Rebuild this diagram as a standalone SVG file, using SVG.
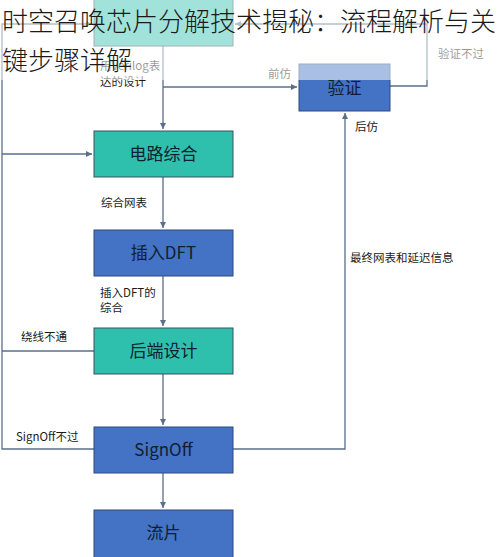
<svg xmlns="http://www.w3.org/2000/svg" width="500" height="557" viewBox="0 0 500 557">
<defs>
<marker id="ah" markerWidth="8" markerHeight="8" refX="6" refY="4" orient="auto" markerUnits="userSpaceOnUse">
<path d="M0,1 L6,4 L0,7 Z" fill="#5a6f8c"/>
</marker>
<style>
.teal{fill:#2fc0ad;stroke:#3a5060;stroke-width:1}
.blue{fill:#4472c4;stroke:#2c4a80;stroke-width:1}
.bt{font-family:"Noto Sans CJK SC","Liberation Sans",sans-serif;font-size:17px;fill:#10202e;text-anchor:middle}
.lb{font-family:"Noto Sans CJK SC","Liberation Sans",sans-serif;font-size:11.5px;fill:#1a1a1a}
.ln{fill:none;stroke:#5a6f8c;stroke-width:1.3}
.title{font-family:"Noto Sans CJK SC","Liberation Sans",sans-serif;font-size:26px;font-weight:300;fill:#1a1a1a}
</style>
</defs>
<rect width="500" height="557" fill="#ffffff"/>
<g id="connectors">
<path class="ln" d="M163,46 V129" marker-end="url(#ah)"/>
<path class="ln" d="M163,87 H297" marker-end="url(#ah)"/>
<path class="ln" d="M163,177 V228" marker-end="url(#ah)"/>
<path class="ln" d="M163,276 V326" marker-end="url(#ah)"/>
<path class="ln" d="M163,374 V425" marker-end="url(#ah)"/>
<path class="ln" d="M163,473 V508" marker-end="url(#ah)"/>
<path class="ln" d="M233,449 H345 V113" marker-end="url(#ah)"/>
<path class="ln" d="M390,86 H427 V24 H235" marker-end="url(#ah)"/>
<path class="ln" d="M94,351 H2"/>
<path class="ln" d="M94,449 H2 V24 H92" marker-end="url(#ah)"/>
<path class="ln" d="M2,154 H92" marker-end="url(#ah)"/>
</g>
<g id="node-rtl"><rect class="teal" x="94" y="-2" width="139" height="48"/></g>
<g id="node-verify"><rect class="blue" x="299" y="64" width="91" height="47"/><text class="bt" x="344.5" y="94">验证</text></g>
<g id="node-synth"><rect class="teal" x="94" y="131" width="139" height="46"/><text class="bt" x="163.5" y="160">电路综合</text></g>
<g id="node-dft"><rect class="blue" x="94" y="230" width="139" height="46"/><text class="bt" x="163.5" y="259">插入DFT</text></g>
<g id="node-backend"><rect class="teal" x="94" y="328" width="139" height="46"/><text class="bt" x="163.5" y="357">后端设计</text></g>
<g id="node-signoff"><rect class="blue" x="94" y="427" width="139" height="46"/><text class="bt" x="163.5" y="456">SignOff</text></g>
<g id="node-tapeout"><rect class="blue" x="94" y="510" width="139" height="50"/><text class="bt" x="163.5" y="539">流片</text></g>
<g id="labels">
<text class="lb" x="100" y="70">用Verilog表</text>
<text class="lb" x="100" y="86">达的设计</text>
<text class="lb" x="268" y="78">前仿</text>
<text class="lb" x="438" y="58">验证不过</text>
<text class="lb" x="355" y="131">后仿</text>
<text class="lb" x="101" y="207">综合网表</text>
<text class="lb" x="100" y="297">插入DFT的</text>
<text class="lb" x="100" y="312">综合</text>
<text class="lb" x="350" y="262">最终网表和延迟信息</text>
<text class="lb" x="21" y="341">绕线不通</text>
<text class="lb" x="16" y="441">SignOff不过</text>
</g>
<rect x="0" y="0" width="500" height="80" fill="#ffffff" opacity="0.55"/>
<g id="title">
<text class="title" x="2" y="31">时空召唤芯片分解技术揭秘：流程解析与关</text>
<text class="title" x="2" y="70">键步骤详解</text>
</g>
</svg>
